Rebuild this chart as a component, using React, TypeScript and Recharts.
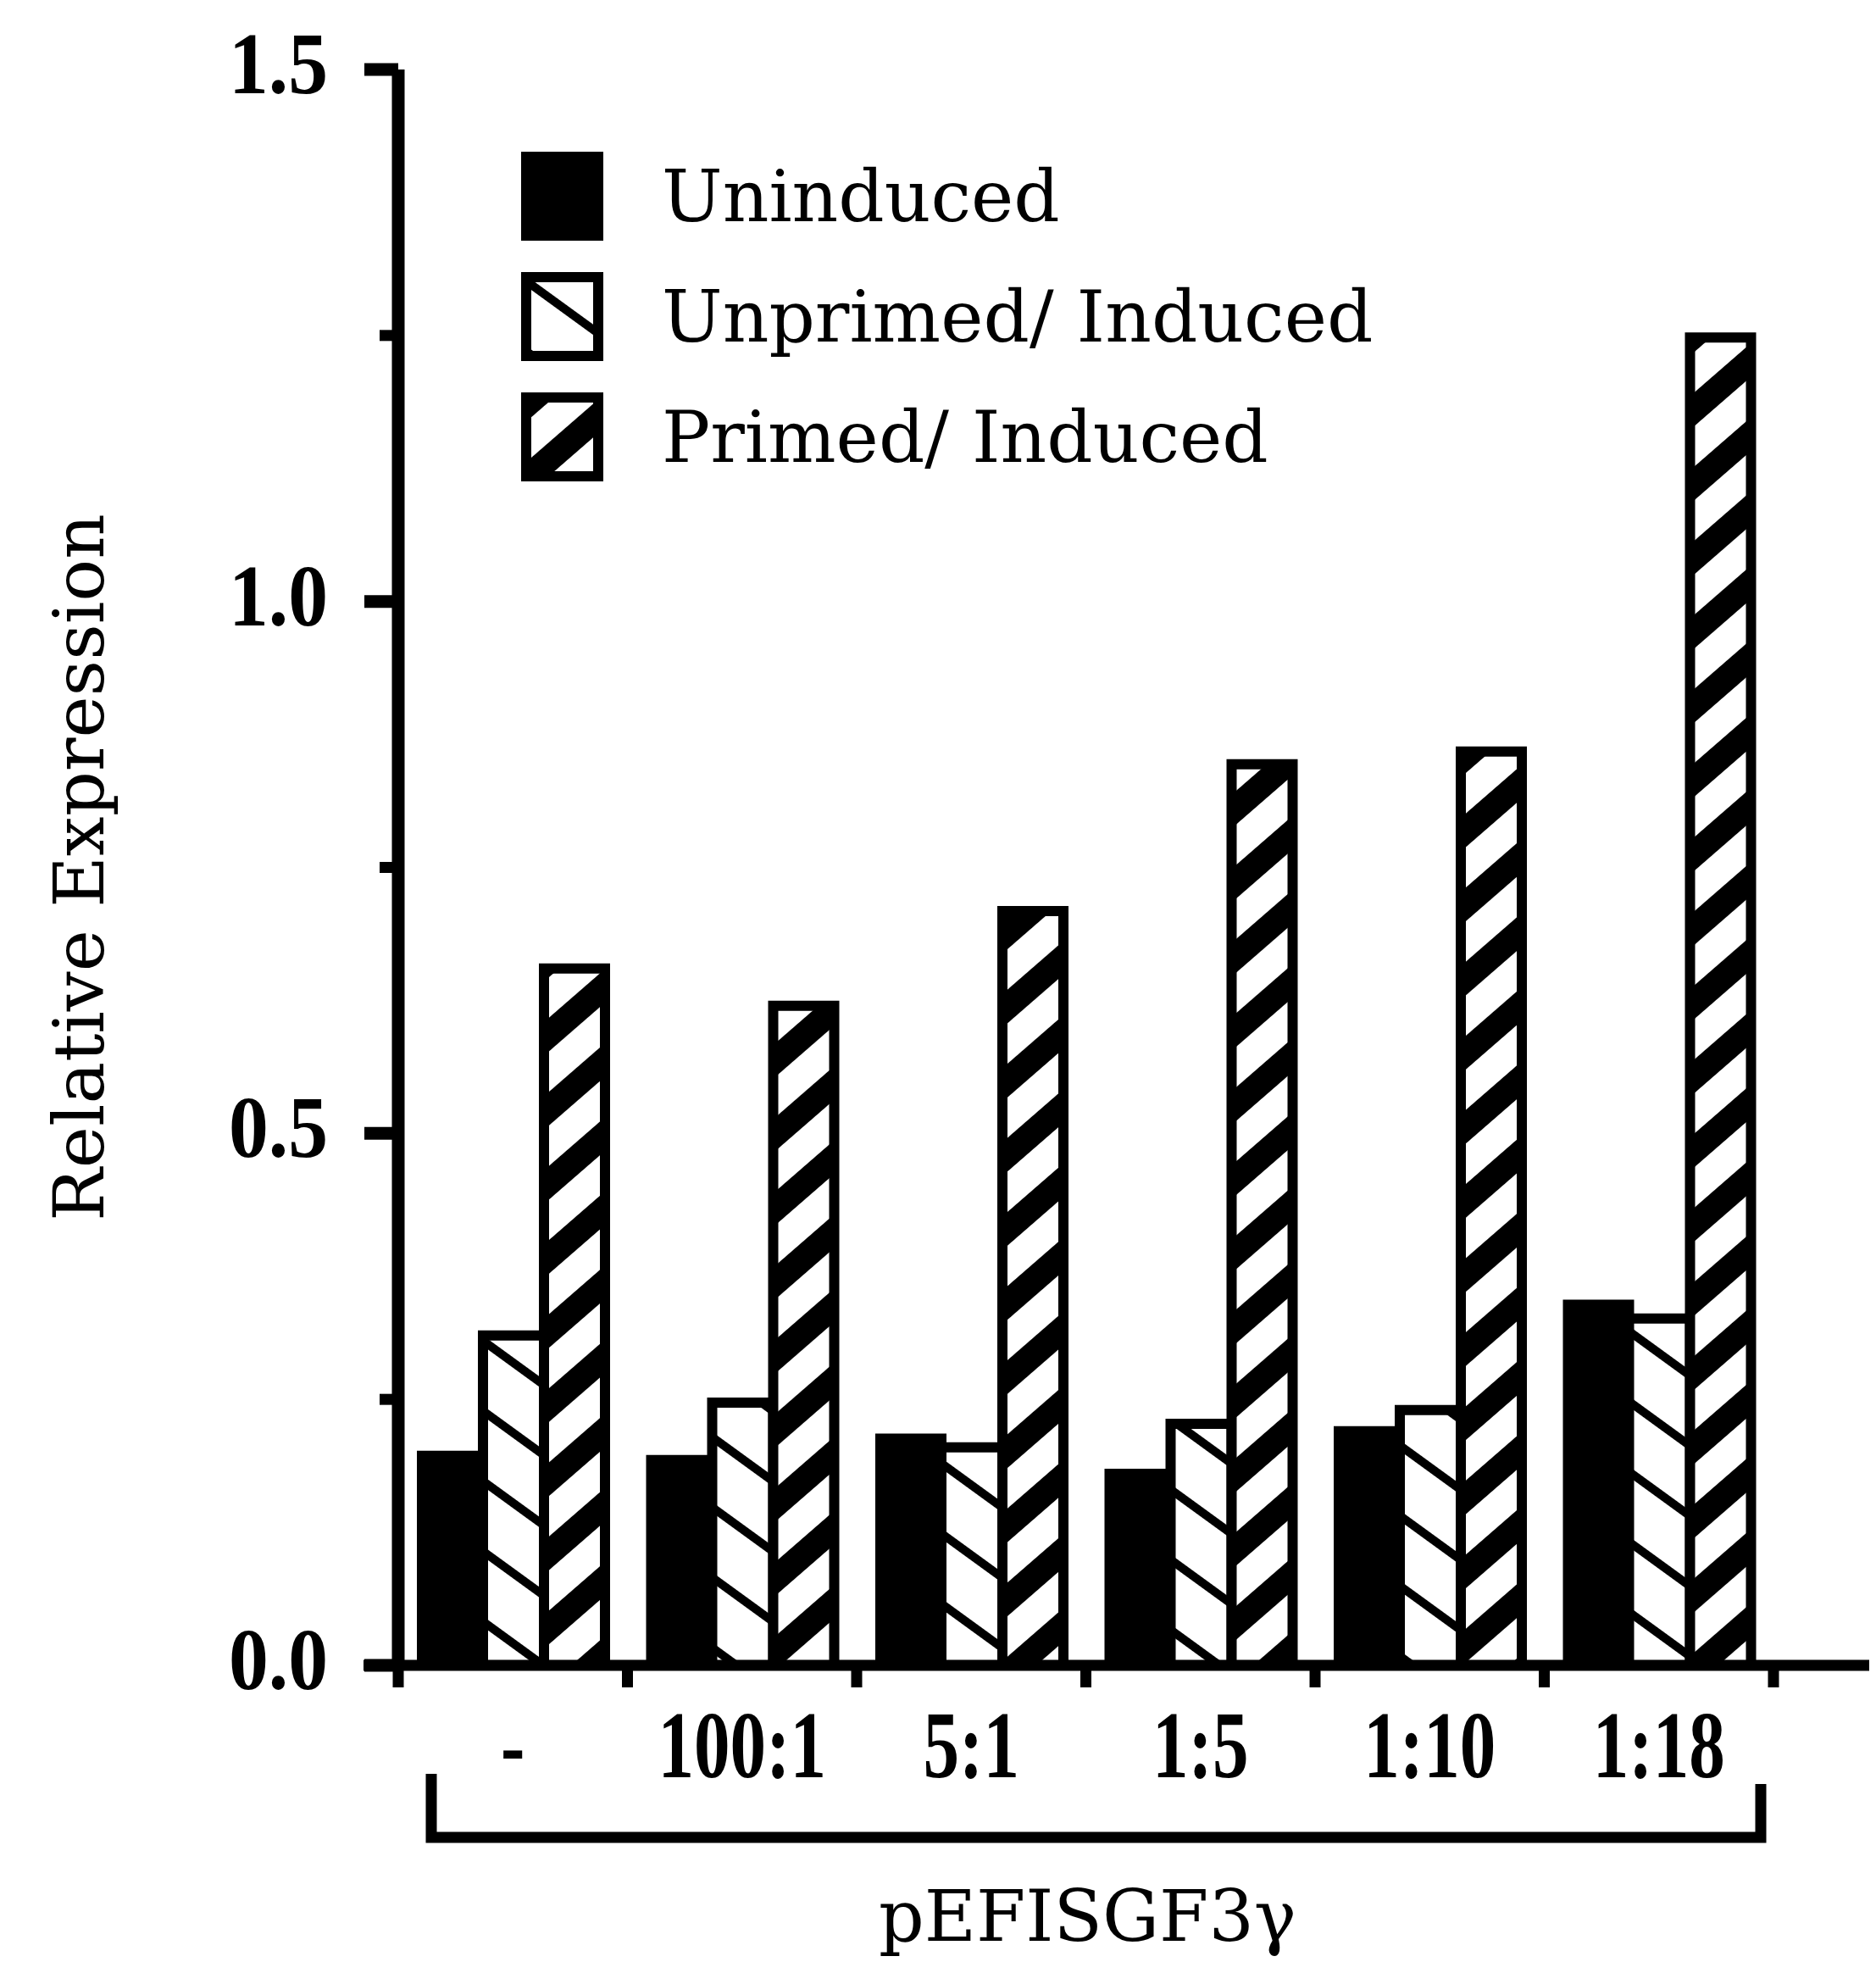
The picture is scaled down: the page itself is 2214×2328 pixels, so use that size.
import React from "react";
import { BarChart, Bar, XAxis, YAxis, Legend, Label } from "recharts";

const categories = ["-", "100:1", "5:1", "1:5", "1:10", "1:18"];
const uninduced = [0.197, 0.193, 0.213, 0.18, 0.22, 0.339];
const unprimedInduced = [0.31, 0.247, 0.205, 0.227, 0.24, 0.326];
const primedInduced = [0.655, 0.62, 0.709, 0.847, 0.859, 1.248];
const seriesNames = ["Uninduced", "Unprimed/ Induced", "Primed/ Induced"];
const yTicks = [0, 0.25, 0.5, 0.75, 1, 1.25, 1.5];
const yTickLabels = ["0.0", "", "0.5", "", "1.0", "", "1.5"];
const groupTitle = "pEFISGF3γ";
const yTitle = "Relative Expression";

const data = categories.map((c, i) => ({
  group: c,
  uninduced: uninduced[i],
  unprimed: unprimedInduced[i],
  primed: primedInduced[i],
}));

const serif = "'DejaVu Serif', serif";
const numFont = "'Liberation Serif', serif";

function Hatches({ suffix }: { suffix: string }) {
  return (
    <defs>
      <pattern id={`back${suffix}`} patternUnits="userSpaceOnUse" width={20} height={67} patternTransform="rotate(36)">
        <rect width={20} height={67} fill="#fff" />
        <rect width={20} height={10} fill="#000" />
      </pattern>
      <pattern id={`fwd${suffix}`} patternUnits="userSpaceOnUse" width={20} height={66} patternTransform="rotate(-41)">
        <rect width={20} height={66} fill="#fff" />
        <rect width={20} height={30} fill="#000" />
      </pattern>
    </defs>
  );
}

const fills = ["#000", "url(#backL)", "url(#fwdL)"];

function LegendContent() {
  return (
    <div>
      {seriesNames.map((name, i) => (
        <div key={name} style={{ display: "flex", alignItems: "center", height: 105, marginBottom: 37 }}>
          <svg width={97} height={105}>
            <Hatches suffix="L" />
            <rect x={6} y={6} width={85} height={93} fill={fills[i]} stroke="#000" strokeWidth={12} />
          </svg>
          <span style={{ marginLeft: 69, fontFamily: serif, fontSize: 85, color: "#000", whiteSpace: "nowrap" }}>{name}</span>
        </div>
      ))}
    </div>
  );
}

function YTick(props: any) {
  const { x, y, payload } = props;
  const label = yTickLabels[yTicks.indexOf(payload.value)];
  const major = label !== "" && label !== undefined;
  return (
    <g>
      <line x1={x - (major ? 40 : 22)} x2={x} y1={y} y2={y} stroke="#000" strokeWidth={major ? 15 : 13} />
      {major && (
        <text
          transform={`translate(${x - 83},${y + 28}) scale(0.9,1)`}
          textAnchor="end"
          fontFamily={numFont}
          fontWeight="bold"
          fontSize={104}
          fill="#000"
        >
          {label}
        </text>
      )}
    </g>
  );
}

function XTick(props: any) {
  const { x, y, payload, index } = props;
  const half = payload.offset ?? 135;
  return (
    <g>
      {index === 0 && <line x1={x - half - 41} x2={x - half} y1={y} y2={y} stroke="#000" strokeWidth={13} />}
      <line x1={x - half} x2={x - half} y1={y} y2={y + 26} stroke="#000" strokeWidth={13} />
      {index === categories.length - 1 && (
        <line x1={x + half} x2={x + half} y1={y} y2={y + 26} stroke="#000" strokeWidth={13} />
      )}
      <text
        transform={`translate(${x},${y + 132}) scale(0.76,1)`}
        textAnchor="middle"
        fontFamily={numFont}
        fontWeight="bold"
        fontSize={112}
        fill="#000"
      >
        {payload.value}
      </text>
    </g>
  );
}

function Bracket(props: any) {
  const vb = props.viewBox;
  const left = vb.x + 39;
  const right = vb.x + vb.width - 136;
  const top = vb.y + 128;
  const base = vb.y + 203;
  return (
    <g>
      <polyline
        points={`${left},${top} ${left},${base} ${right},${base} ${right},${top + 12}`}
        fill="none"
        stroke="#000"
        strokeWidth={13}
      />
      <text x={(left + right) / 2 - 10} y={vb.y + 325} textAnchor="middle" fontFamily={serif} fontSize={84} fill="#000">
        {groupTitle}
      </text>
    </g>
  );
}

function YTitle(props: any) {
  const vb = props.viewBox;
  const cx = vb.x + 114;
  const cy = vb.y + vb.height / 2;
  return (
    <text transform={`translate(${cx},${cy}) rotate(-90)`} textAnchor="middle" fontFamily={serif} fontSize={83} fill="#000">
      {yTitle}
    </text>
  );
}

export default function App() {
  return (
    <div style={{ width: 2206, height: 2312, background: "#fff" }}>
      <BarChart
        width={2206}
        height={2312}
        data={data}
        margin={{ top: 74, right: 0, bottom: 0, left: 0 }}
        barCategoryGap={28}
        barGap={0}
      >
        <Hatches suffix="" />
        <XAxis
          dataKey="group"
          height={355}
          padding={{ left: 0, right: 121 }}
          axisLine={{ stroke: "#000", strokeWidth: 13 }}
          tickLine={false}
          tickSize={0}
          tickMargin={0}
          interval={0}
          tick={<XTick />}
        >
          <Label content={<Bracket />} />
        </XAxis>
        <YAxis
          width={462}
          domain={[0, 1.5]}
          ticks={yTicks}
          interval={0}
          axisLine={{ stroke: "#000", strokeWidth: 15 }}
          tickLine={false}
          tickSize={0}
          tickMargin={0}
          tick={<YTick />}
        >
          <Label content={<YTitle />} />
        </YAxis>
        <Legend
          layout="vertical"
          align="center"
          verticalAlign="middle"
          wrapperStyle={{ left: 607, top: 171, width: "auto" }}
          content={<LegendContent />}
        />
        <Bar dataKey="uninduced" name={seriesNames[0]} fill="#000" stroke="#000" strokeWidth={12} isAnimationActive={false} />
        <Bar dataKey="unprimed" name={seriesNames[1]} fill="url(#back)" stroke="#000" strokeWidth={12} isAnimationActive={false} />
        <Bar dataKey="primed" name={seriesNames[2]} fill="url(#fwd)" stroke="#000" strokeWidth={12} isAnimationActive={false} />
      </BarChart>
    </div>
  );
}
